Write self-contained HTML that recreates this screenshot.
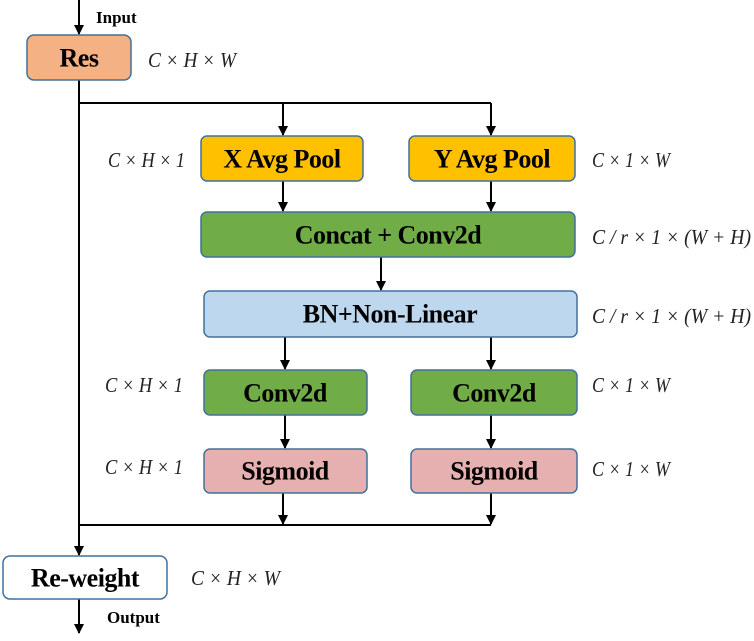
<!DOCTYPE html>
<html><head><style>
body{margin:0;background:#fff;}
svg text{font-family:"Liberation Serif",serif;}
.b{font-weight:bold;font-size:26px;text-anchor:middle;dominant-baseline:central;fill:#000;letter-spacing:-0.5px}
.i{font-style:italic;font-size:21px;fill:#222}
</style></head><body>
<svg width="754" height="636" viewBox="0 0 754 636" xmlns="http://www.w3.org/2000/svg">
<defs><marker id="a" markerWidth="10" markerHeight="10" refX="9" refY="5" orient="auto" markerUnits="userSpaceOnUse"><path d="M0,0 L10,5 L0,10 z" fill="#000"/></marker></defs>
<g stroke="#000" stroke-width="2" fill="none">
<line x1="79" y1="0" x2="79" y2="34" marker-end="url(#a)"/>
<line x1="79" y1="80" x2="79" y2="555" marker-end="url(#a)"/>
<line x1="79" y1="103" x2="491" y2="103"/>
<line x1="283" y1="103" x2="283" y2="135" marker-end="url(#a)"/>
<line x1="491" y1="103" x2="491" y2="135" marker-end="url(#a)"/>
<line x1="283" y1="181" x2="283" y2="211" marker-end="url(#a)"/>
<line x1="491" y1="181" x2="491" y2="211" marker-end="url(#a)"/>
<line x1="381" y1="257" x2="381" y2="290" marker-end="url(#a)"/>
<line x1="285" y1="337" x2="285" y2="369" marker-end="url(#a)"/>
<line x1="491" y1="337" x2="491" y2="369" marker-end="url(#a)"/>
<line x1="285" y1="415" x2="285" y2="448" marker-end="url(#a)"/>
<line x1="491" y1="415" x2="491" y2="448" marker-end="url(#a)"/>
<line x1="79" y1="525" x2="491" y2="525"/>
<line x1="283" y1="493" x2="283" y2="524" marker-end="url(#a)"/>
<line x1="491" y1="493" x2="491" y2="524" marker-end="url(#a)"/>
<line x1="79" y1="599" x2="79" y2="633" marker-end="url(#a)"/>
</g>
<g stroke="#41719c" stroke-width="1.5">
<rect x="27" y="35" width="104" height="45" rx="7" fill="#f4b183"/>
<rect x="201" y="136" width="162" height="45" rx="6" fill="#ffc000"/>
<rect x="409" y="136" width="166" height="45" rx="6" fill="#ffc000"/>
<rect x="201" y="212" width="374" height="45" rx="6" fill="#70ad47"/>
<rect x="204" y="291" width="373" height="46" rx="6" fill="#bdd7ee"/>
<rect x="204" y="370" width="163" height="45" rx="6" fill="#70ad47"/>
<rect x="411" y="370" width="166" height="45" rx="6" fill="#70ad47"/>
<rect x="204" y="449" width="163" height="44" rx="6" fill="#e6b0b0"/>
<rect x="411" y="449" width="166" height="44" rx="6" fill="#e6b0b0"/>
<rect x="3" y="556" width="164" height="43" rx="7" fill="#fff"/>
</g>
<text class="b" x="79" y="58">Res</text>
<text class="b" x="282" y="159">X Avg Pool</text>
<text class="b" x="492" y="159">Y Avg Pool</text>
<text class="b" x="388" y="235">Concat + Conv2d</text>
<text class="b" x="390" y="314">BN+Non-Linear</text>
<text class="b" x="285" y="393">Conv2d</text>
<text class="b" x="494" y="393">Conv2d</text>
<text class="b" x="285" y="471">Sigmoid</text>
<text class="b" x="494" y="471">Sigmoid</text>
<text class="b" x="85" y="578">Re-weight</text>
<text x="96" y="23" style="font-weight:bold;font-size:17px">Input</text>
<text x="107" y="623" style="font-weight:bold;font-size:17px">Output</text>
<text class="i" x="148" y="67" textLength="88" lengthAdjust="spacingAndGlyphs">C × H × W</text>
<text class="i" x="108" y="167" textLength="77" lengthAdjust="spacingAndGlyphs">C × H × 1</text>
<text class="i" x="592" y="167" textLength="78" lengthAdjust="spacingAndGlyphs">C × 1 × W</text>
<text class="i" x="592" y="244" textLength="159" lengthAdjust="spacingAndGlyphs">C / r × 1 × (W + H)</text>
<text class="i" x="592" y="323" textLength="159" lengthAdjust="spacingAndGlyphs">C / r × 1 × (W + H)</text>
<text class="i" x="105" y="392" textLength="78" lengthAdjust="spacingAndGlyphs">C × H × 1</text>
<text class="i" x="592" y="392" textLength="78" lengthAdjust="spacingAndGlyphs">C × 1 × W</text>
<text class="i" x="105" y="474" textLength="78" lengthAdjust="spacingAndGlyphs">C × H × 1</text>
<text class="i" x="592" y="476" textLength="78" lengthAdjust="spacingAndGlyphs">C × 1 × W</text>
<text class="i" x="191" y="585" textLength="89" lengthAdjust="spacingAndGlyphs">C × H × W</text>
</svg>
</body></html>
